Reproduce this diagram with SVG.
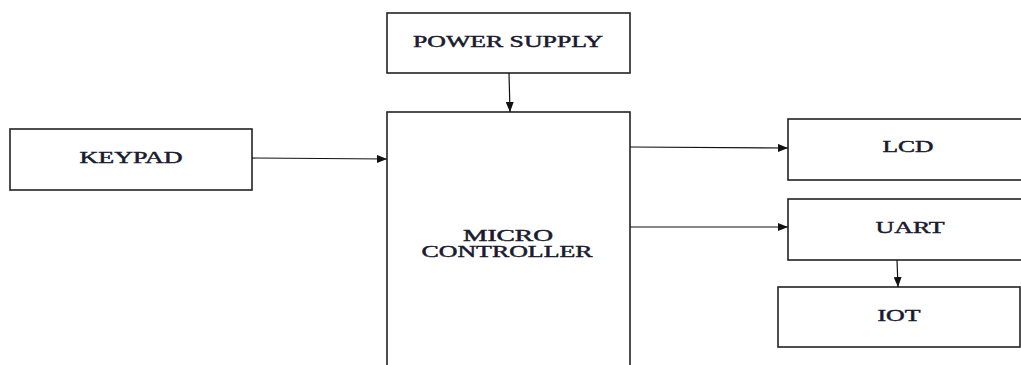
<svg xmlns="http://www.w3.org/2000/svg" width="1021" height="365" viewBox="0 0 1021 365">
<style>
.box{fill:#fff;stroke:#222;stroke-width:1.6}
.lbl{font-family:"Liberation Serif","Times New Roman",serif;font-size:16px;fill:#1a1a2e;stroke:#1a1a2e;stroke-width:0.45;text-anchor:middle}
.con{stroke:#111;stroke-width:1.2;fill:none}
</style>
<defs>
<marker id="ah" markerWidth="10" markerHeight="8" refX="10" refY="4" orient="auto" markerUnits="userSpaceOnUse">
<path d="M0,0 L10,4 L0,8 Z" fill="#111"/>
</marker>
</defs>
<rect width="1021" height="365" fill="#fff"/>
<g id="power">
<rect class="box" x="387" y="13" width="243" height="60"/>
<text class="lbl" x="508" y="47" textLength="190" lengthAdjust="spacingAndGlyphs">POWER SUPPLY</text>
</g>
<g id="micro">
<rect class="box" x="387" y="112" width="243" height="270"/>
<text class="lbl" x="508" y="241" textLength="90" lengthAdjust="spacingAndGlyphs">MICRO</text>
<text class="lbl" x="507" y="257" textLength="171" lengthAdjust="spacingAndGlyphs">CONTROLLER</text>
</g>
<g id="keypad">
<rect class="box" x="10" y="129" width="242" height="61"/>
<text class="lbl" x="131" y="163" textLength="103" lengthAdjust="spacingAndGlyphs">KEYPAD</text>
</g>
<g id="lcd">
<rect class="box" x="788" y="119" width="240" height="61"/>
<text class="lbl" x="908" y="152" textLength="51" lengthAdjust="spacingAndGlyphs">LCD</text>
</g>
<g id="uart">
<rect class="box" x="788" y="199" width="240" height="61"/>
<text class="lbl" x="910" y="233" textLength="69" lengthAdjust="spacingAndGlyphs">UART</text>
</g>
<g id="iot">
<rect class="box" x="778" y="287" width="242" height="60"/>
<text class="lbl" x="899" y="321" textLength="43" lengthAdjust="spacingAndGlyphs">IOT</text>
</g>
<g id="connectors">
<line class="con" x1="509" y1="73" x2="510" y2="112" marker-end="url(#ah)"/>
<line class="con" x1="252" y1="158" x2="387" y2="159" marker-end="url(#ah)"/>
<line class="con" x1="630" y1="147" x2="788" y2="148" marker-end="url(#ah)"/>
<line class="con" x1="630" y1="227" x2="788" y2="227" marker-end="url(#ah)"/>
<line class="con" x1="897" y1="260" x2="898" y2="287" marker-end="url(#ah)"/>
</g>
</svg>
